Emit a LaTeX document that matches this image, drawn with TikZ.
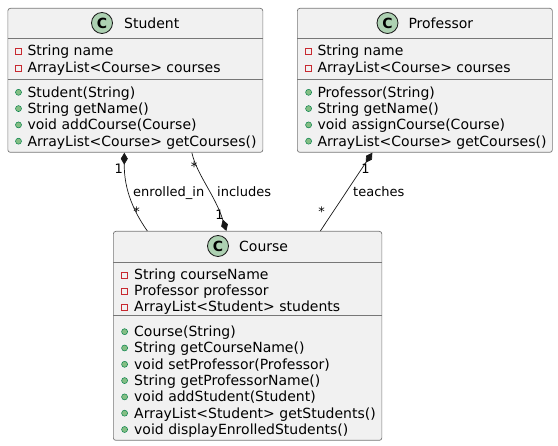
\documentclass[tikz,border=0pt]{standalone}
\usepackage{fontspec}
\setmainfont{DejaVu Sans}
\usetikzlibrary{arrows.meta}
\definecolor{umlfill}{HTML}{F1F1F1}
\definecolor{umlline}{HTML}{181818}
\definecolor{boxline}{HTML}{777777}
\definecolor{badgefill}{HTML}{ADD1B2}
\definecolor{privred}{HTML}{C82930}
\definecolor{pubgreen}{HTML}{84BE84}
\definecolor{pubedge}{HTML}{038048}

\begin{document}
\begin{tikzpicture}[x=1pt,y=-1pt,
  classbox/.style={draw=boxline,fill=umlfill,rounded corners=2.5pt,line width=0.7pt,anchor=north west,inner sep=0pt},
  badge/.style={circle,draw=umlline,fill=badgefill,line width=0.8pt,minimum size=21pt,inner sep=0pt,font=\fontsize{14}{14}\selectfont\bfseries},
  classname/.style={anchor=base west,inner sep=0pt,font=\fontsize{14}{16}\selectfont},
  member/.style={anchor=base west,inner sep=0pt,font=\fontsize{14}{16}\selectfont},
  sepline/.style={draw=boxline,line width=0.7pt},
  privmark/.style={draw=privred,line width=0.6pt},
  pubmark/.style={fill=pubgreen,draw=pubedge,line width=0.5pt},
  mult/.style={inner sep=0pt,font=\fontsize{13}{15}\selectfont},
  linklabel/.style={anchor=base west,inner sep=0pt,font=\fontsize{13}{15}\selectfont},
  compo/.style={draw=umlline,line width=0.7pt,-{Diamond[length=12pt,width=7pt]}}]
\useasboundingbox (0,0) rectangle (558,446);

% Student
\node[classbox,minimum width=255pt,minimum height=144pt] (stu) at (7.5,8) {};
\draw[sepline] (7.5,38.5) -- (262.5,38.5);
\draw[sepline] (7.5,79.5) -- (262.5,79.5);
\node[badge] (stu-c) at (102,23) {C};
\node[classname] (stu-name) at (124,28.3) {Student};
\node[member] (stu-a1) at (27.3,56) {String name};
\node[member] (stu-a2) at (27.3,72.3) {ArrayList<Course> courses};
\node[member] (stu-m1) at (27.3,97.3) {Student(String)};
\node[member] (stu-m2) at (27.3,113.6) {String getName()};
\node[member] (stu-m3) at (27.3,129.9) {void addCourse(Course)};
\node[member] (stu-m4) at (27.3,146.2) {ArrayList<Course> getCourses()};
\draw[privmark] (15.5,48.7) rectangle (21.5,54.7);
\draw[privmark] (15.5,65) rectangle (21.5,71);
\draw[pubmark] (18.5,92.3) circle (3);
\draw[pubmark] (18.5,108.6) circle (3);
\draw[pubmark] (18.5,124.9) circle (3);
\draw[pubmark] (18.5,141.2) circle (3);

% Professor
\node[classbox,minimum width=255pt,minimum height=144pt] (prof) at (297,8) {};
\draw[sepline] (297,38.5) -- (552,38.5);
\draw[sepline] (297,79.5) -- (552,79.5);
\node[badge] (prof-c) at (387.5,23) {C};
\node[classname] (prof-name) at (408.3,28.3) {Professor};
\node[member] (prof-a1) at (317.3,56) {String name};
\node[member] (prof-a2) at (317.3,72.3) {ArrayList<Course> courses};
\node[member] (prof-m1) at (317.3,97.3) {Professor(String)};
\node[member] (prof-m2) at (317.3,113.6) {String getName()};
\node[member] (prof-m3) at (317.3,129.9) {void assignCourse(Course)};
\node[member] (prof-m4) at (317.3,146.2) {ArrayList<Course> getCourses()};
\draw[privmark] (305.6,48.7) rectangle (311.6,54.7);
\draw[privmark] (305.6,65) rectangle (311.6,71);
\draw[pubmark] (308.6,92.3) circle (3);
\draw[pubmark] (308.6,108.6) circle (3);
\draw[pubmark] (308.6,124.9) circle (3);
\draw[pubmark] (308.6,141.2) circle (3);

% Course
\node[classbox,minimum width=268.5pt,minimum height=209pt] (crs) at (113,231) {};
\draw[sepline] (113,262) -- (381.5,262);
\draw[sepline] (113,315) -- (381.5,315);
\node[badge] (crs-c) at (218,246) {C};
\node[classname] (crs-name) at (239,251.7) {Course};
\node[member] (crs-a1) at (134,279.3) {String courseName};
\node[member] (crs-a2) at (134,295.6) {Professor professor};
\node[member] (crs-a3) at (134,311.9) {ArrayList<Student> students};
\node[member] (crs-m1) at (134,336.7) {Course(String)};
\node[member] (crs-m2) at (134,353) {String getCourseName()};
\node[member] (crs-m3) at (134,369.3) {void setProfessor(Professor)};
\node[member] (crs-m4) at (134,385.6) {String getProfessorName()};
\node[member] (crs-m5) at (134,401.9) {void addStudent(Student)};
\node[member] (crs-m6) at (134,418.2) {ArrayList<Student> getStudents()};
\node[member] (crs-m7) at (134,434.5) {void displayEnrolledStudents()};
\draw[privmark] (121.6,272) rectangle (127.6,278);
\draw[privmark] (121.6,288.3) rectangle (127.6,294.3);
\draw[privmark] (121.6,304.6) rectangle (127.6,310.6);
\draw[pubmark] (124.6,331.7) circle (3);
\draw[pubmark] (124.6,348) circle (3);
\draw[pubmark] (124.6,364.3) circle (3);
\draw[pubmark] (124.6,380.6) circle (3);
\draw[pubmark] (124.6,396.9) circle (3);
\draw[pubmark] (124.6,413.2) circle (3);
\draw[pubmark] (124.6,429.5) circle (3);

% links
\draw[compo] ([xshift=-100.25pt]crs.north) .. controls (134,212) and (124,190) .. ([xshift=-11pt]stu.south);
\draw[compo] ([xshift=56.5pt]stu.south) .. controls (197,175) and (215,195) .. ([xshift=-21.25pt]crs.north);
\draw[compo] ([xshift=72.75pt]crs.north) -- ([xshift=-52.5pt]prof.south);
\node[mult] (enr-one) at (118.7,169) {1};
\node[mult] (enr-many) at (136.7,212) {*};
\node[linklabel] (enr-lbl) at (133,196.3) {enrolled\_in};
\node[mult] (inc-many) at (194.2,167) {*};
\node[mult] (inc-one) at (219.5,214.5) {1};
\node[linklabel] (inc-lbl) at (217,196.3) {includes};
\node[mult] (tch-one) at (365.5,169) {1};
\node[mult] (tch-many) at (321.7,211.7) {*};
\node[linklabel] (tch-lbl) at (353,196.5) {teaches};
\end{tikzpicture}
\end{document}
